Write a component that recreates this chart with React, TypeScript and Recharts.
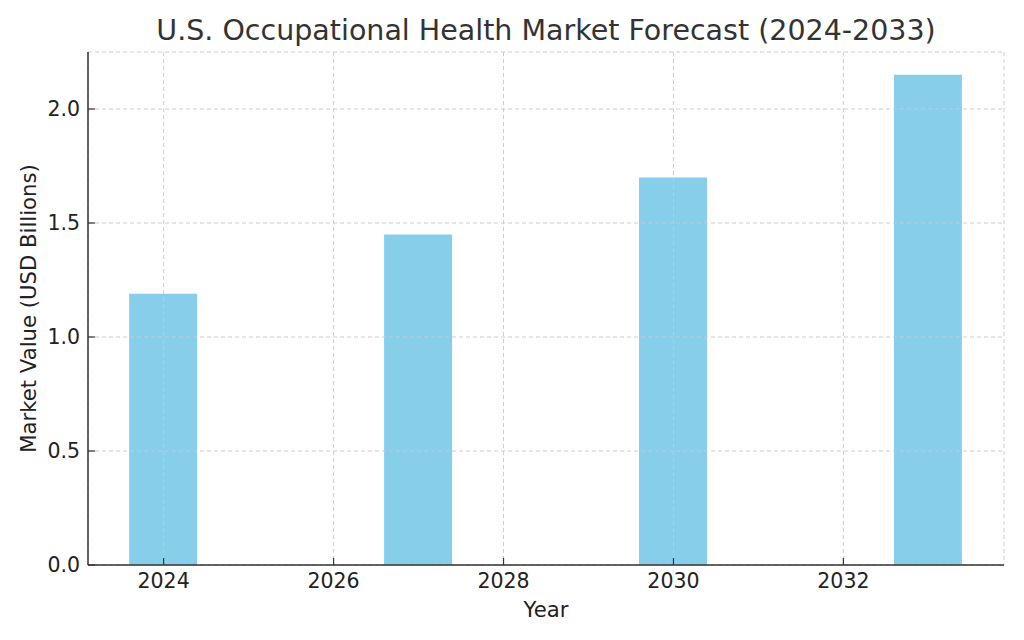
import React from 'react'
import { BarChart, Bar, XAxis, YAxis, CartesianGrid } from 'recharts';

const years = [2024, 2027, 2030, 2033];
const marketValues = [1.19, 1.45, 1.70, 2.15];
const xTicks = [2024, 2026, 2028, 2030, 2032];
const yTicks = [0, 0.5, 1.0, 1.5, 2.0];

const data = years.map((year, i) => ({ year, value: marketValues[i] }));

const FONT = '"DejaVu Sans", sans-serif';
const TICK_LEN = 7;

const XTick = (props: any) => {
  const { x, y, payload } = props;
  return (
    <g>
      <line x1={x} y1={y} x2={x} y2={y - TICK_LEN} stroke="#333" strokeWidth={1.2} />
      <text x={x} y={y + 8} textAnchor="middle" dominantBaseline="hanging" fill="#222" fontSize={20.5} fontFamily={FONT}>
        {payload.value}
      </text>
    </g>
  );
};

const YTick = (props: any) => {
  const { x, y, payload } = props;
  return (
    <g>
      <line x1={x} y1={y} x2={x + TICK_LEN} y2={y} stroke="#333" strokeWidth={1.2} />
      <text x={x - 8} y={y} textAnchor="end" dominantBaseline="central" fill="#222" fontSize={20.5} fontFamily={FONT}>
        {Number(payload.value).toFixed(1)}
      </text>
    </g>
  );
};

const YLabel = (props: any) => {
  const { viewBox } = props;
  const cx = 28;
  const cy = viewBox.y + viewBox.height / 2;
  return (
    <text x={cx} y={cy} transform={`rotate(-90 ${cx} ${cy})`} textAnchor="middle" dominantBaseline="central" fill="#222" fontSize={21.2} fontFamily={FONT}>
      Market Value (USD Billions)
    </text>
  );
};

const XLabel = (props: any) => {
  const { viewBox } = props;
  const cx = viewBox.x + viewBox.width / 2;
  return (
    <text x={cx} y={609} textAnchor="middle" dominantBaseline="central" fill="#222" fontSize={21.2} fontFamily={FONT}>
      Year
    </text>
  );
};

const App: React.FC = () => {
  return (
    <div style={{ position: 'absolute', left: 0, top: 0, width: 1024, height: 640, background: '#fff', fontFamily: FONT }}>
      <div style={{ position: 'absolute', left: 88, width: 916, top: 12, textAlign: 'center', fontSize: 28.5, color: '#333', lineHeight: '38px' }}>
        U.S. Occupational Health Market Forecast (2024-2033)
      </div>
      <BarChart
        width={1024}
        height={640}
        data={data}
        margin={{ top: 52, right: 20, left: 0, bottom: 0 }}
      >
        <Bar dataKey="value" fill="#87CEEB" barSize={68} isAnimationActive={false} />
        <CartesianGrid stroke="#c8c8c8" strokeDasharray="4 3" strokeWidth={0.9} zIndex={500} />
        <XAxis
          dataKey="year"
          type="number"
          domain={[2023.11, 2033.89]}
          ticks={xTicks}
          allowDataOverflow
          height={75}
          tickSize={0}
          tickMargin={0}
          tickLine={false}
          tick={<XTick />}
          axisLine={{ stroke: '#333', strokeWidth: 1.5 }}
          label={<XLabel />}
        />
        <YAxis
          type="number"
          domain={[0, 2.25]}
          ticks={yTicks}
          allowDataOverflow
          width={88}
          tickSize={0}
          tickMargin={0}
          tickLine={false}
          tick={<YTick />}
          axisLine={{ stroke: '#333', strokeWidth: 1.5 }}
          label={<YLabel />}
        />
      </BarChart>
    </div>
  );
};

export default App;
